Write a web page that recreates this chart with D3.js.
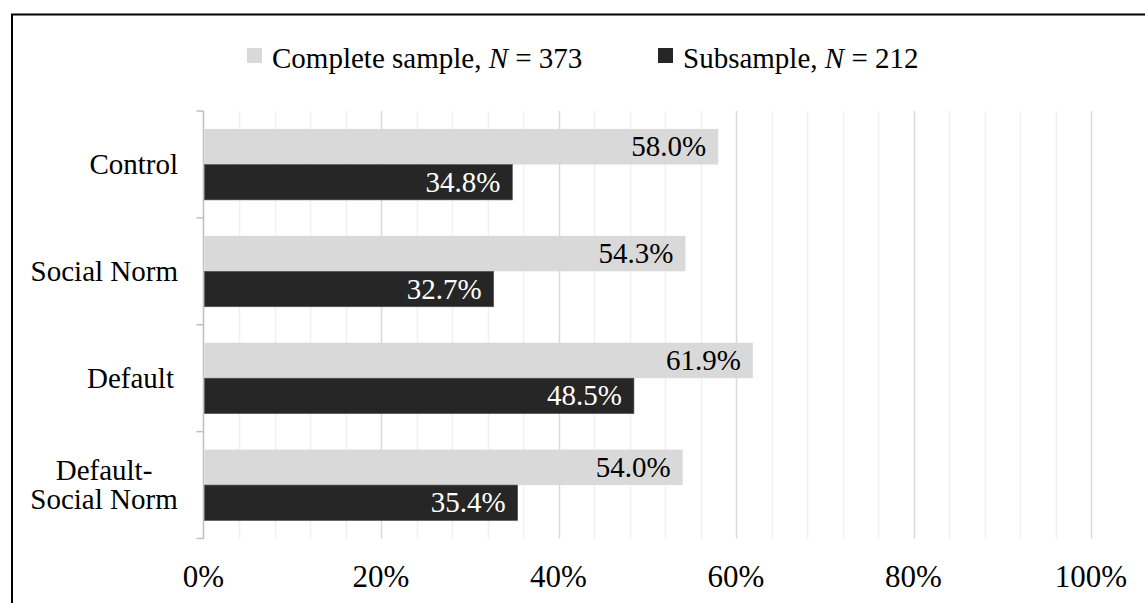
<!DOCTYPE html>
<html>
<head>
<meta charset="utf-8">
<script src="https://cdn.jsdelivr.net/npm/d3@7/dist/d3.min.js"></script>
</head>
<body style="margin:0;background:#fff">
<svg id="chart" width="1145" height="603"></svg>
<script>
// Share of participants per treatment, for the two samples
const categories = ["Control", "Social Norm", "Default", "Default-\nSocial Norm"];
const completeSample = [58.0, 54.3, 61.9, 54.0];
const subsample = [34.8, 32.7, 48.5, 35.4];
const seriesNames = ["Complete sample", "Subsample"];
const seriesN = [373, 212];
const xTicks = [0, 20, 40, 60, 80, 100];
const xGrid = d3.range(0, 101, 4);

const FONT = "'Liberation Serif', serif";
const colors = ["#d9d9d9", "#262626"];
const labelColors = ["#000000", "#ffffff"];

const svg = d3.select("#chart").attr("font-family", FONT);

// outer frame
svg.append("rect")
  .attr("x", 12).attr("y", 14.5)
  .attr("width", 1300).attr("height", 800)
  .attr("fill", "none").attr("stroke", "#000").attr("stroke-width", 2);

const plot = { left: 203.5, right: 1091, top: 111, bottom: 538.5 };

const x = d3.scaleLinear().domain([0, 100]).range([plot.left, plot.right]);
const y = d3.scaleBand().domain(categories).range([plot.top, plot.bottom]).padding(0);
const sub = d3.scaleBand().domain([0, 1]).range([0, y.bandwidth()]).paddingOuter(0.507).paddingInner(0);

// gridlines: light every 4%, slightly darker every 20%
svg.append("g").selectAll("line")
  .data(xGrid.filter(d => d > 0))
  .join("line")
  .attr("x1", d => Math.round(x(d)) + 0.5).attr("x2", d => Math.round(x(d)) + 0.5)
  .attr("y1", plot.top).attr("y2", plot.bottom)
  .attr("stroke", d => d % 20 === 0 ? "#d9d9d9" : "#f0f0f0")
  .attr("stroke-width", 1.5);

// category axis with outward ticks at band boundaries
const boundaries = categories.map(c => y(c)).concat([plot.bottom]);
const axisG = svg.append("g").attr("stroke", "#bfbfbf").attr("stroke-width", 1.5);
axisG.append("line")
  .attr("x1", plot.left).attr("x2", plot.left)
  .attr("y1", plot.top).attr("y2", plot.bottom);
axisG.selectAll("line.tick").data(boundaries).join("line")
  .attr("class", "tick")
  .attr("x1", plot.left - 7).attr("x2", plot.left)
  .attr("y1", d => d).attr("y2", d => d);

// bars with value labels inside the bar end
const series = [completeSample, subsample];
series.forEach((vals, si) => {
  const g = svg.append("g");
  g.selectAll("rect").data(vals).join("rect")
    .attr("x", x(0) + 1)
    .attr("y", (d, i) => y(categories[i]) + sub(si))
    .attr("width", d => x(d) - x(0) - 1)
    .attr("height", sub.bandwidth())
    .attr("fill", colors[si])
    .attr("stroke", si === 1 ? "#555" : "none")
    .attr("stroke-width", 0.6);
  g.selectAll("text").data(vals).join("text")
    .attr("x", d => x(d) - 12)
    .attr("y", (d, i) => y(categories[i]) + sub(si) + sub.bandwidth() / 2 + 9.5)
    .attr("text-anchor", "end")
    .attr("font-family", FONT)
    .attr("font-size", 29)
    .attr("fill", labelColors[si])
    .text(d => d.toFixed(1) + "%");
});

// category labels (multi-line labels are centred within their block)
categories.forEach(c => {
  const lines = c.split("\n");
  const cy = y(c) + y.bandwidth() / 2;
  const lh = 29;
  const t = svg.append("text")
    .attr("font-family", FONT)
    .attr("font-size", 29)
    .attr("fill", "#000");
  if (lines.length === 1) {
    t.attr("x", c === "Default" ? 174 : 178).attr("y", cy + 9.5).attr("text-anchor", "end").text(c);
  } else {
    const cx = 104;
    t.attr("text-anchor", "middle");
    lines.forEach((ln, i) => {
      t.append("tspan")
        .attr("x", cx)
        .attr("y", cy + 9.5 + (i - (lines.length - 1) / 2) * lh)
        .text(ln);
    });
  }
});

// x tick labels
svg.append("g").selectAll("text").data(xTicks).join("text")
  .attr("x", d => x(d))
  .attr("y", 587)
  .attr("text-anchor", "middle")
  .attr("font-family", FONT)
  .attr("font-size", 31)
  .attr("fill", "#000")
  .text(d => d + "%");

// legend
const legendX = [247, 658];
seriesNames.forEach((name, i) => {
  const g = svg.append("g");
  g.append("rect")
    .attr("x", legendX[i]).attr("y", 48)
    .attr("width", 15).attr("height", 15)
    .attr("fill", colors[i]);
  const t = g.append("text")
    .attr("x", legendX[i] + 25).attr("y", 68)
    .attr("font-family", FONT)
    .attr("font-size", 29)
    .attr("fill", "#000");
  t.append("tspan").text(name + ", ");
  t.append("tspan").attr("font-style", "italic").text("N");
  t.append("tspan").text(" = " + seriesN[i]);
});
</script>
</body>
</html>
